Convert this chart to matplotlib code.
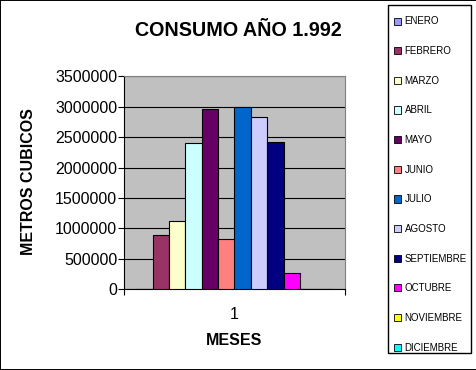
import matplotlib
matplotlib.use("Agg")
import matplotlib.pyplot as plt
from matplotlib.patches import Rectangle
import numpy as np

plt.rcParams["font.family"] = ["Liberation Sans", "DejaVu Sans"]

# data
meses = ["ENERO", "FEBRERO", "MARZO", "ABRIL", "MAYO", "JUNIO", "JULIO",
         "AGOSTO", "SEPTIEMBRE", "OCTUBRE", "NOVIEMBRE", "DICIEMBRE"]
consumo = [0, 885000, 1130000, 2400000, 2955000, 820000, 2990000,
           2825000, 2415000, 260000, 0, 0]
colores = ["#9999FF", "#993366", "#FFFFCC", "#CCFFFF", "#660066", "#FF8080",
           "#0066CC", "#CCCCFF", "#000080", "#FF00FF", "#FFFF00", "#00FFFF"]
yticks = np.arange(0, 3500001, 500000)

fig = plt.figure(figsize=(4.77, 3.70), dpi=100)
fig.patch.set_facecolor("white")
fig.patches.append(Rectangle((0, 0), 1, 1, transform=fig.transFigure,
                             fill=False, edgecolor="black", linewidth=1.4))

ax = fig.add_axes([124 / 477, 1 - 289.3 / 370, 221 / 477, 213 / 370])
ax.set_facecolor("#C0C0C0")

x = np.arange(len(meses))
handles = []
for xi, val, col, name in zip(x, consumo, colores, meses):
    b = ax.bar(xi, val, width=1.0, color=col, edgecolor="black",
               linewidth=0.8, label=name, zorder=3)
    handles.append(b)

# Excel-like gap width 150%
ax.set_xlim(-1.25, 12.25)
ax.set_ylim(0, 3500000)
ax.set_yticks(yticks)
ax.set_yticklabels([str(v) for v in yticks], fontsize=11.5)
ax.yaxis.grid(True, color="black", linewidth=0.8, zorder=1)
ax.set_axisbelow(True)
ax.tick_params(axis="y", direction="out", length=4.3, width=0.8, pad=0.5)

ax.set_xticks([-1.25, 12.25])
ax.set_xticklabels(["", ""])
ax.set_xticks([5.5], minor=True)
ax.set_xticklabels(["1"], minor=True, fontsize=11.5)
ax.tick_params(axis="x", which="major", direction="out", length=4.3, width=0.8)
ax.tick_params(axis="x", which="minor", length=0, pad=12.5)

for side in ["top", "right"]:
    ax.spines[side].set_color("#808080")
    ax.spines[side].set_linewidth(0.8)
for side in ["left", "bottom"]:
    ax.spines[side].set_color("black")
    ax.spines[side].set_linewidth(0.8)

ax.set_ylabel("METROS CUBICOS", fontsize=11.5, fontweight="bold")
ax.yaxis.set_label_coords(-0.40, 0.506)
ax.set_xlabel("MESES", fontsize=11.5, fontweight="bold")
ax.xaxis.set_label_coords(0.5, -0.204)

fig.suptitle("CONSUMO AÑO 1.992", x=238.5 / 477, y=1 - 30 / 370,
             va="center", fontsize=14.2, fontweight="bold")

# legend box (Excel style, white with black border)
fig.patches.append(Rectangle((388 / 477, 1 - 353 / 370), 83 / 477, 348 / 370,
                             transform=fig.transFigure, facecolor="white",
                             edgecolor="black", linewidth=1.0, zorder=1))
leg = fig.legend(handles=handles, loc="upper left",
                 bbox_to_anchor=(394 / 477, 1 - 16.5 / 370), fontsize=7,
                 frameon=False, labelspacing=2.02, handlelength=0.75,
                 handleheight=0.75, handletextpad=0.35, borderpad=0,
                 borderaxespad=0)
for h in leg.legend_handles:
    h.set_edgecolor("black")
    h.set_linewidth(0.6)

fig.savefig("out.png", dpi=100)
